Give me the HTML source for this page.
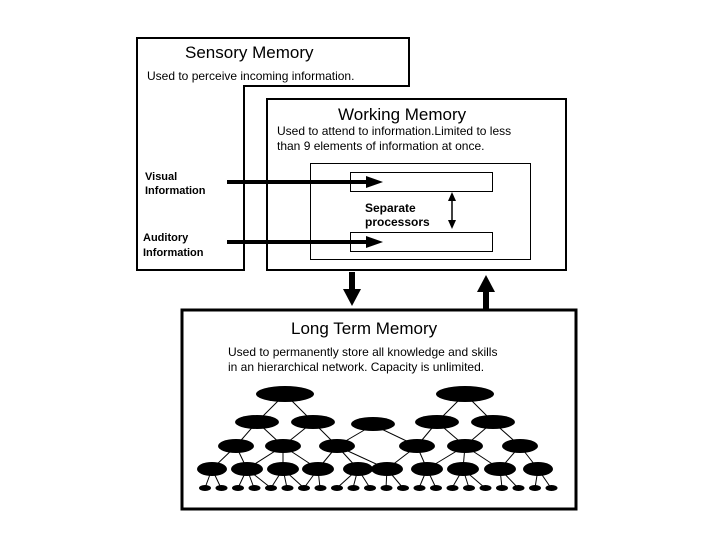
<!DOCTYPE html>
<html><head><meta charset="utf-8"><style>
html,body{margin:0;padding:0;background:#fff}
svg{display:block}
text{font-family:"Liberation Sans",sans-serif;fill:#000}
</style></head><body>
<svg width="720" height="540" viewBox="0 0 720 540" xmlns="http://www.w3.org/2000/svg">
<!-- Sensory memory outline -->
<polygon points="137,38 409,38 409,86 244,86 244,270 137,270" fill="#fff" stroke="#000" stroke-width="2"/>
<text x="185" y="58" font-size="17">Sensory Memory</text>
<text x="147" y="80" font-size="12">Used to perceive incoming information.</text>
<!-- Working memory -->
<rect x="267" y="99" width="299" height="171" fill="#fff" stroke="#000" stroke-width="2"/>
<text x="338" y="120" font-size="17">Working Memory</text>
<text x="277" y="135" font-size="12">Used to attend to information.Limited to less</text>
<text x="277" y="150" font-size="12">than 9 elements of information at once.</text>
<rect x="310.5" y="163.5" width="220" height="96" fill="none" stroke="#000" stroke-width="1"/>
<rect x="350.5" y="172.5" width="142" height="19" fill="none" stroke="#000" stroke-width="1"/>
<rect x="350.5" y="232.5" width="142" height="19" fill="none" stroke="#000" stroke-width="1"/>
<text x="145" y="180" font-size="11" font-weight="bold">Visual</text>
<text x="145" y="194" font-size="11" font-weight="bold">Information</text>
<text x="143" y="241" font-size="11" font-weight="bold">Auditory</text>
<text x="143" y="256" font-size="11" font-weight="bold">Information</text>
<text x="365" y="212" font-size="12" font-weight="bold">Separate</text>
<text x="365" y="226" font-size="12" font-weight="bold">processors</text>
<!-- input arrows -->
<rect x="227" y="180" width="140" height="4"/>
<polygon points="366,176 383,182 366,188"/>
<rect x="227" y="240" width="140" height="4"/>
<polygon points="366,236 383,242 366,248"/>
<!-- double arrow -->
<line x1="452" y1="197" x2="452" y2="224" stroke="#000" stroke-width="1.5"/>
<polygon points="448,201 452,192 456,201"/>
<polygon points="448,220 452,229 456,220"/>
<!-- down/up arrows -->
<rect x="349" y="272" width="6" height="18"/>
<polygon points="343,289 361,289 352,306"/>
<rect x="483" y="291" width="6" height="18"/>
<polygon points="477,292 495,292 486,275"/>
<!-- LTM -->
<rect x="182" y="310" width="394" height="199" fill="#fff" stroke="#000" stroke-width="3"/>
<text x="291" y="334" font-size="17">Long Term Memory</text>
<text x="228" y="356" font-size="12">Used to permanently store all knowledge and skills</text>
<text x="228" y="371" font-size="12">in an hierarchical network. Capacity is unlimited.</text>
<g stroke="#000" stroke-width="1">
<!-- L0 -> L1 -->
<line x1="285" y1="394" x2="257" y2="422"/><line x1="285" y1="394" x2="313" y2="422"/>
<line x1="465" y1="394" x2="437" y2="422"/><line x1="465" y1="394" x2="493" y2="422"/>
<!-- L1 -> L2 -->
<line x1="257" y1="422" x2="236" y2="446"/><line x1="257" y1="422" x2="283" y2="446"/>
<line x1="313" y1="422" x2="283" y2="446"/><line x1="313" y1="422" x2="337" y2="446"/>
<line x1="373" y1="425" x2="337" y2="446"/><line x1="373" y1="425" x2="417" y2="446"/>
<line x1="437" y1="422" x2="417" y2="446"/><line x1="437" y1="422" x2="465" y2="446"/>
<line x1="493" y1="422" x2="465" y2="446"/><line x1="493" y1="422" x2="520" y2="446"/>
<!-- L2 -> L3 -->
<line x1="236" y1="446" x2="212" y2="469"/><line x1="236" y1="446" x2="247" y2="469"/>
<line x1="283" y1="446" x2="247" y2="469"/><line x1="283" y1="446" x2="283" y2="469"/><line x1="283" y1="446" x2="318" y2="469"/>
<line x1="337" y1="446" x2="318" y2="469"/><line x1="337" y1="446" x2="358" y2="469"/><line x1="337" y1="446" x2="387" y2="469"/>
<line x1="417" y1="446" x2="387" y2="469"/><line x1="417" y1="446" x2="427" y2="469"/>
<line x1="465" y1="446" x2="427" y2="469"/><line x1="465" y1="446" x2="463" y2="469"/><line x1="465" y1="446" x2="500" y2="469"/>
<line x1="520" y1="446" x2="500" y2="469"/><line x1="520" y1="446" x2="538" y2="469"/>
<!-- L3 -> L4 -->
<line x1="212" y1="469" x2="205" y2="488"/><line x1="212" y1="469" x2="221" y2="488"/>
<line x1="247" y1="469" x2="238" y2="488"/><line x1="247" y1="469" x2="254" y2="488"/><line x1="247" y1="469" x2="271" y2="488"/>
<line x1="283" y1="469" x2="271" y2="488"/><line x1="283" y1="469" x2="287" y2="488"/><line x1="283" y1="469" x2="304" y2="488"/>
<line x1="318" y1="469" x2="304" y2="488"/><line x1="318" y1="469" x2="320" y2="488"/>
<line x1="358" y1="469" x2="337" y2="488"/><line x1="358" y1="469" x2="353" y2="488"/><line x1="358" y1="469" x2="370" y2="488"/>
<line x1="387" y1="469" x2="386" y2="488"/><line x1="387" y1="469" x2="403" y2="488"/>
<line x1="427" y1="469" x2="419" y2="488"/><line x1="427" y1="469" x2="436" y2="488"/>
<line x1="463" y1="469" x2="452" y2="488"/><line x1="463" y1="469" x2="469" y2="488"/><line x1="463" y1="469" x2="485" y2="488"/>
<line x1="500" y1="469" x2="502" y2="488"/><line x1="500" y1="469" x2="518" y2="488"/>
<line x1="538" y1="469" x2="535" y2="488"/><line x1="538" y1="469" x2="551" y2="488"/>
</g>
<g fill="#000">
<ellipse cx="285" cy="394" rx="29" ry="8"/><ellipse cx="465" cy="394" rx="29" ry="8"/>
<ellipse cx="257" cy="422" rx="22" ry="7"/><ellipse cx="313" cy="422" rx="22" ry="7"/>
<ellipse cx="373" cy="424" rx="22" ry="7"/><ellipse cx="437" cy="422" rx="22" ry="7"/>
<ellipse cx="493" cy="422" rx="22" ry="7"/>
<ellipse cx="236" cy="446" rx="18" ry="7"/><ellipse cx="283" cy="446" rx="18" ry="7"/>
<ellipse cx="337" cy="446" rx="18" ry="7"/><ellipse cx="417" cy="446" rx="18" ry="7"/>
<ellipse cx="465" cy="446" rx="18" ry="7"/><ellipse cx="520" cy="446" rx="18" ry="7"/>
<ellipse cx="212" cy="469" rx="15" ry="7"/><ellipse cx="247" cy="469" rx="16" ry="7"/>
<ellipse cx="283" cy="469" rx="16" ry="7"/><ellipse cx="318" cy="469" rx="16" ry="7"/>
<ellipse cx="358" cy="469" rx="15" ry="7"/><ellipse cx="387" cy="469" rx="16" ry="7"/>
<ellipse cx="427" cy="469" rx="16" ry="7"/><ellipse cx="463" cy="469" rx="16" ry="7"/>
<ellipse cx="500" cy="469" rx="16" ry="7"/><ellipse cx="538" cy="469" rx="15" ry="7"/>
<ellipse cx="205" cy="488" rx="6" ry="3"/><ellipse cx="221.5" cy="488" rx="6" ry="3"/>
<ellipse cx="238" cy="488" rx="6" ry="3"/><ellipse cx="254.5" cy="488" rx="6" ry="3"/>
<ellipse cx="271" cy="488" rx="6" ry="3"/><ellipse cx="287.5" cy="488" rx="6" ry="3"/>
<ellipse cx="304" cy="488" rx="6" ry="3"/><ellipse cx="320.5" cy="488" rx="6" ry="3"/>
<ellipse cx="337" cy="488" rx="6" ry="3"/><ellipse cx="353.5" cy="488" rx="6" ry="3"/>
<ellipse cx="370" cy="488" rx="6" ry="3"/><ellipse cx="386.5" cy="488" rx="6" ry="3"/>
<ellipse cx="403" cy="488" rx="6" ry="3"/><ellipse cx="419.5" cy="488" rx="6" ry="3"/>
<ellipse cx="436" cy="488" rx="6" ry="3"/><ellipse cx="452.5" cy="488" rx="6" ry="3"/>
<ellipse cx="469" cy="488" rx="6" ry="3"/><ellipse cx="485.5" cy="488" rx="6" ry="3"/>
<ellipse cx="502" cy="488" rx="6" ry="3"/><ellipse cx="518.5" cy="488" rx="6" ry="3"/>
<ellipse cx="535" cy="488" rx="6" ry="3"/><ellipse cx="551.5" cy="488" rx="6" ry="3"/>
</g>
</svg>
</body></html>
